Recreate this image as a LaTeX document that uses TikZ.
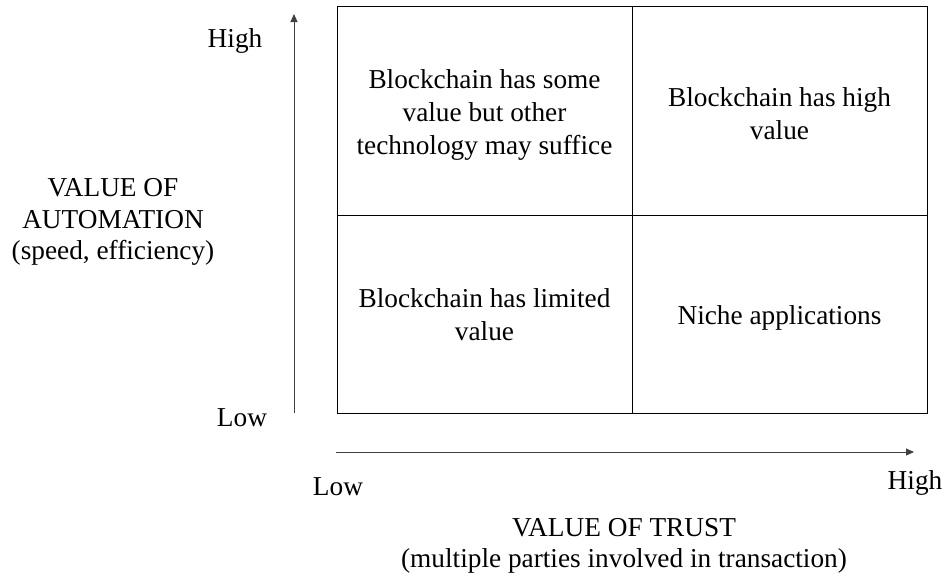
\documentclass[tikz,border=0pt]{standalone}
\usepackage{fontspec}
\setmainfont{Liberation Serif}
\usetikzlibrary{arrows.meta}
\begin{document}
\begin{tikzpicture}[x=1pt,y=-1pt,
  quad/.style={draw=black,line width=1pt,inner sep=0pt},
  qtext/.style={inner sep=0pt,align=center,font=\fontsize{27.3}{33}\selectfont},
  lbl/.style={inner sep=0pt,align=center,font=\fontsize{27.3}{31.5}\selectfont},
  axis/.style={draw=black!75,line width=0.9pt,-{Triangle[length=8pt,width=7pt]}}]
\useasboundingbox (0,0) rectangle (947,579);
\node[quad,minimum width=295pt,minimum height=209pt] (tl) at (484.5,110.5) {};
\node[quad,minimum width=295pt,minimum height=209pt] (tr) at (779.5,110.5) {};
\node[quad,minimum width=295pt,minimum height=198pt] (bl) at (484.5,314) {};
\node[quad,minimum width=295pt,minimum height=198pt] (br) at (779.5,314) {};
\node[qtext] (tlt) at (484.5,114.5) {Blockchain has some\\value but other\\technology may suffice};
\node[qtext] (trt) at (779.5,113.5) {Blockchain has high\\value};
\node[qtext] (blt) at (484.5,315) {Blockchain has limited\\value};
\node[qtext] (brt) at (779.5,318) {Niche applications};
\coordinate (ya0) at (294,413);
\coordinate (ya1) at (294,14);
\draw[axis] (ya0) -- (ya1);
\coordinate (xa0) at (336,452);
\coordinate (xa1) at (914,452);
\draw[axis] (xa0) -- (xa1);
\node[lbl] (yhigh) at (235,41) {High};
\node[lbl] (ylow) at (242,418) {Low};
\node[lbl] (ytitle) at (113,222) {VALUE OF\\AUTOMATION\\(speed, efficiency)};
\node[lbl] (xlow) at (338,487) {Low};
\node[lbl] (xhigh) at (915,483) {High};
\node[lbl] (xtitle) at (624,546) {VALUE OF TRUST\\(multiple parties involved in transaction)};
\end{tikzpicture}
\end{document}
